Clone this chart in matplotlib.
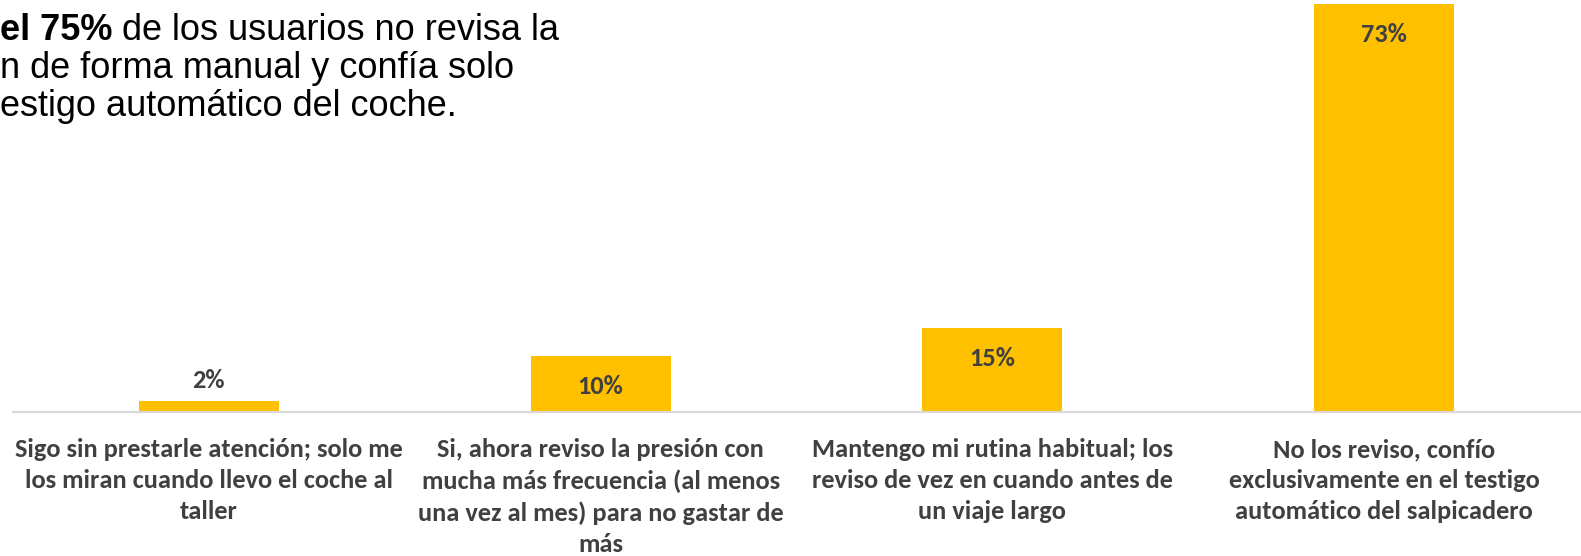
import matplotlib.pyplot as plt
import numpy as np

categorias = [
    "Sigo sin prestarle atención; solo me\nlos miran cuando llevo el coche al\ntaller",
    "Si, ahora reviso la presión con\nmucha más frecuencia (al menos\nuna vez al mes) para no gastar de\nmás",
    "Mantengo mi rutina habitual; los\nreviso de vez en cuando antes de\nun viaje largo",
    "No los reviso, confío\nexclusivamente en el testigo\nautomático del salpicadero",
]
valores = [2, 10, 15, 73]
titulo_negrita = "el 75%"
titulo_lineas = [" de los usuarios no revisa la",
                 "n de forma manual y confía solo",
                 "estigo automático del coche."]

W, H, DPI = 1581, 556, 100
fig = plt.figure(figsize=(W / DPI, H / DPI), dpi=DPI)
ax = fig.add_axes([13 / W, (H - 412) / H, (1580 - 13) / W, 412 / H])

label_font = ['Carlito', 'DejaVu Sans']
gris = '#404040'
x = np.arange(len(valores))
bars = ax.bar(x, valores, width=0.357, color='#FFC000', zorder=2)
ax.set_xlim(-0.5, len(valores) - 0.5)
ax.set_ylim(0, 73.7)

for xi, v in zip(x, valores):
    if v < 5:
        off = 14.4
    else:
        off = -22
    ax.annotate(f"{v}%", xy=(xi, v), xytext=(0, off), textcoords='offset points',
                ha='center', va='center', fontsize=19, fontweight='bold',
                color=gris, family=label_font)

ax.set_xticks(x)
ax.set_xticklabels(categorias, fontsize=19, fontweight='bold', color=gris,
                   family=label_font, linespacing=1.42, va='top')
ax.tick_params(axis='x', length=0, pad=19)
ax.set_yticks([])
for s in ['top', 'right', 'left']:
    ax.spines[s].set_visible(False)
ax.spines['bottom'].set_color('#D9D9D9')
ax.spines['bottom'].set_linewidth(1.5)

# titulo (recortado a la izquierda como en la imagen)
ys = [30, 68, 106]
fs = 26
t0 = fig.text(0, 1 - ys[0] / H, titulo_negrita, fontsize=fs, fontweight='bold',
              family='Liberation Sans', va='center', ha='left')
fig.canvas.draw()
bb = t0.get_window_extent(fig.canvas.get_renderer())
fig.text(bb.x1 / W, 1 - ys[0] / H, titulo_lineas[0], fontsize=fs,
         family='Liberation Sans', va='center', ha='left')
for y, txt in zip(ys[1:], titulo_lineas[1:]):
    fig.text(0, 1 - y / H, txt, fontsize=fs, family='Liberation Sans',
             va='center', ha='left')

fig.savefig('out.png', dpi=DPI)
